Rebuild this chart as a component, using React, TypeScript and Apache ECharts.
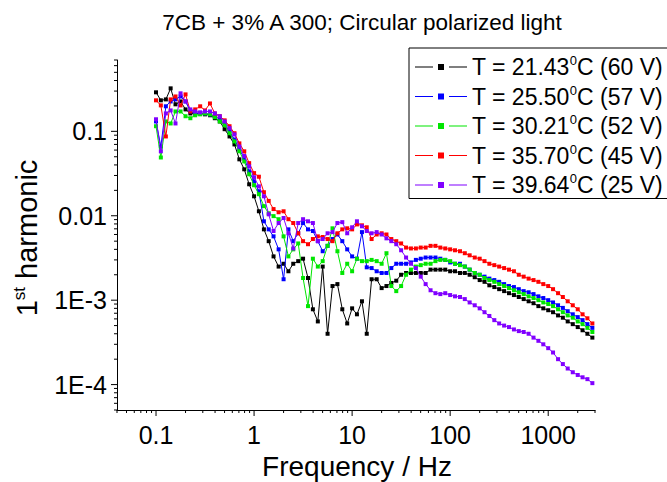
import React, { useEffect, useRef } from 'react';
import * as echarts from 'echarts';

// Frequencies (Hz), shared by all series
const freqs = [
  0.1, 0.112, 0.126, 0.141, 0.158, 0.178, 0.2, 0.224, 0.251, 0.282,
  0.316, 0.355, 0.398, 0.447, 0.501, 0.562, 0.631, 0.708, 0.794, 0.891,
  1, 1.12, 1.26, 1.41, 1.58, 1.78, 2, 2.24, 2.51, 2.82,
  3.16, 3.55, 3.98, 4.47, 5.01, 5.62, 6.31, 7.08, 7.94, 8.91,
  10, 11.2, 12.6, 14.1, 15.8, 17.8, 20, 22.4, 25.1, 28.2,
  31.6, 35.5, 39.8, 44.7, 50.1, 56.2, 63.1, 70.8, 79.4, 89.1,
  100, 112, 126, 141, 158, 178, 200, 224, 251, 282,
  316, 355, 398, 447, 501, 562, 631, 708, 794, 891,
  1000, 1120, 1260, 1410, 1580, 1780, 2000, 2240, 2510, 2820,
];

const h21 = [
  0.29, 0.233, 0.239, 0.323, 0.209, 0.226, 0.182, 0.163, 0.163, 0.163,
  0.159, 0.155, 0.143, 0.131, 0.106, 0.087, 0.07, 0.0466, 0.0355, 0.0236,
  0.017, 0.0113, 0.0069, 0.005, 0.0033, 0.0025, 0.0027, 0.0022, 0.0027, 0.0029,
  0.0031, 0.00183, 0.00078, 0.00056, 0.0025, 0.0004, 0.00147, 0.00155, 0.00078, 0.00053,
  0.0008, 0.00068, 0.00097, 0.0004, 0.00177, 0.00177, 0.00139, 0.00147, 0.0016, 0.0017,
  0.002, 0.0021, 0.0021, 0.0021, 0.0021, 0.0021, 0.0023, 0.0023, 0.0023, 0.0023,
  0.0022, 0.0022, 0.0021, 0.0021, 0.002, 0.00187, 0.00173, 0.00165, 0.0015, 0.00143,
  0.00135, 0.00128, 0.00121, 0.00115, 0.00109, 0.00103, 0.00097, 0.00092, 0.00085, 0.0008,
  0.00076, 0.00072, 0.00066, 0.00062, 0.00056, 0.00052, 0.00048, 0.00044, 0.0004, 0.00036,
];

const h25 = [
  0.131, 0.066, 0.198, 0.226, 0.239, 0.259, 0.226, 0.172, 0.163, 0.163,
  0.163, 0.159, 0.151, 0.139, 0.121, 0.1, 0.08, 0.061, 0.048, 0.0336,
  0.0256, 0.0195, 0.0086, 0.0069, 0.0057, 0.004, 0.00177, 0.0069, 0.005, 0.0062,
  0.0082, 0.0069, 0.0066, 0.005, 0.0038, 0.0044, 0.0053, 0.006, 0.005, 0.004,
  0.0033, 0.0031, 0.0064, 0.00245, 0.0024, 0.0022, 0.0021, 0.0021, 0.0024, 0.0027,
  0.0027, 0.0027, 0.0028, 0.003, 0.0031, 0.0032, 0.0032, 0.0032, 0.0031, 0.003,
  0.0028, 0.0027, 0.0027, 0.0025, 0.0023, 0.0021, 0.002, 0.0019, 0.0018, 0.00173,
  0.00165, 0.00155, 0.00147, 0.00143, 0.00135, 0.00128, 0.00124, 0.00118, 0.00111, 0.00106,
  0.001, 0.00094, 0.00087, 0.00081, 0.00074, 0.00068, 0.00063, 0.00058, 0.00052, 0.00047,
];

const h30 = [
  0.115, 0.049, 0.131, 0.124, 0.172, 0.172, 0.151, 0.143, 0.155, 0.159,
  0.163, 0.159, 0.147, 0.131, 0.118, 0.095, 0.076, 0.058, 0.044, 0.031,
  0.023, 0.018, 0.013, 0.0107, 0.0099, 0.0091, 0.0057, 0.0033, 0.004, 0.0047,
  0.00183, 0.00085, 0.0031, 0.0025, 0.0029, 0.0044, 0.0071, 0.0038, 0.0021, 0.0027,
  0.0022, 0.0031, 0.0029, 0.0029, 0.003, 0.0029, 0.0027, 0.0036, 0.00147, 0.00128,
  0.00147, 0.002, 0.0023, 0.0025, 0.0026, 0.0027, 0.0027, 0.0029, 0.003, 0.003,
  0.0029, 0.0027, 0.0026, 0.0025, 0.0023, 0.0021, 0.002, 0.00183, 0.00173, 0.00165,
  0.00155, 0.00147, 0.00139, 0.00131, 0.00124, 0.00118, 0.00111, 0.00106, 0.001, 0.00094,
  0.0009, 0.00085, 0.00078, 0.00072, 0.00066, 0.00062, 0.00056, 0.00052, 0.00047, 0.00042,
];

const h35 = [
  0.233, 0.203, 0.087, 0.239, 0.259, 0.203, 0.274, 0.172, 0.182, 0.198,
  0.177, 0.214, 0.163, 0.151, 0.135, 0.115, 0.095, 0.072, 0.058, 0.042,
  0.032, 0.029, 0.019, 0.015, 0.012, 0.011, 0.0113, 0.0091, 0.0082, 0.0062,
  0.005, 0.0046, 0.0053, 0.0057, 0.0056, 0.0053, 0.005, 0.0062, 0.0069, 0.0071,
  0.0069, 0.0079, 0.0077, 0.0073, 0.0053, 0.006, 0.0062, 0.006, 0.0053, 0.005,
  0.0047, 0.0042, 0.0041, 0.0041, 0.0042, 0.0042, 0.0044, 0.0044, 0.0042, 0.0041,
  0.004, 0.0039, 0.0038, 0.0036, 0.0034, 0.0032, 0.0031, 0.0029, 0.0027, 0.0026,
  0.0025, 0.0024, 0.0023, 0.0022, 0.002, 0.0019, 0.0018, 0.00173, 0.00165, 0.00155,
  0.00147, 0.00135, 0.00121, 0.00109, 0.00097, 0.00087, 0.00078, 0.00068, 0.00061, 0.00053,
];

const h39 = [
  0.139, 0.058, 0.163, 0.177, 0.124, 0.282, 0.226, 0.182, 0.172, 0.168,
  0.172, 0.172, 0.163, 0.151, 0.131, 0.109, 0.092, 0.066, 0.051, 0.0385,
  0.0286, 0.0223, 0.017, 0.0104, 0.0066, 0.0082, 0.0094, 0.0062, 0.0041, 0.0082,
  0.0091, 0.0086, 0.0082, 0.005, 0.0053, 0.0062, 0.0064, 0.0082, 0.0084, 0.0062,
  0.0073, 0.0086, 0.0075, 0.0066, 0.0062, 0.0064, 0.006, 0.0054, 0.005, 0.0046,
  0.0039, 0.0032, 0.0027, 0.0024, 0.0019, 0.00155, 0.00131, 0.00121, 0.00118, 0.00121,
  0.00115, 0.00111, 0.00109, 0.00103, 0.00094, 0.00087, 0.0008, 0.00072, 0.00065, 0.00058,
  0.00053, 0.0005, 0.00048, 0.00045, 0.00043, 0.00042, 0.0004, 0.00036, 0.00033, 0.0003,
  0.00027, 0.00024, 0.0002, 0.000175, 0.000155, 0.00014, 0.00013, 0.000122, 0.000116, 0.000104,
];

const seriesValues = [h21, h25, h30, h35, h39];
const seriesTemps = ['21.43', '25.50', '30.21', '35.70', '39.64'];
const seriesVolts = ['60', '57', '52', '45', '25'];
const seriesColors = ['#000000', '#0000ff', '#00e600', '#ff0000', '#8000ff'];

const xTickValues = [0.1, 1, 10, 100, 1000];
const xTickLabels = ['0.1', '1', '10', '100', '1000'];
const yTickValues = [1e-4, 1e-3, 0.01, 0.1];
const yTickLabels = ['1E-4', '1E-3', '0.01', '0.1'];

const X_MIN = 0.04;
const X_MAX = 3000;
const Y_MIN = 5e-5;
const Y_MAX = 0.7;

const FONT = '"Liberation Sans", Arial, Helvetica, sans-serif';
const LEGEND_ICON = 'path://M0,2.6H18V3.4H0Z M23,0H29V6H23Z M34,2.6H52V3.4H34Z';

function logTicks(min: number, max: number) {
  const out: [number, boolean][] = [];
  for (let e = -6; e <= 4; e++) {
    for (let m = 1; m <= 9; m++) {
      const v = parseFloat((m * Math.pow(10, e)).toPrecision(3));
      if (v >= min * 0.9999 && v <= max * 1.0001) out.push([v, m === 1]);
    }
  }
  return out;
}

function matchLabel(v: number, vals: number[], labels: string[]) {
  const lv = Math.log10(v);
  const i = vals.findIndex((t) => Math.abs(Math.log10(t) - lv) < 1e-6);
  return i >= 0 ? labels[i] : '';
}

const seriesName = (i: number) => `T = ${seriesTemps[i]}°C (${seriesVolts[i]} V)`;

export default function App() {
  const ref = useRef<HTMLDivElement>(null);
  useEffect(() => {
    if (!ref.current) return;
    const chart = echarts.init(ref.current, undefined, { renderer: 'svg' });

    const tickData: number[][] = [];
    logTicks(X_MIN, X_MAX).forEach(([v, major]) => tickData.push([v, Y_MIN, major ? 6 : 3, 0]));
    logTicks(Y_MIN, Y_MAX).forEach(([v, major]) => tickData.push([X_MIN, v, major ? 6 : 3, 1]));

    const lineSeries = seriesValues.map((vals, i) => ({
      name: seriesName(i),
      type: 'line',
      data: freqs.map((f, j) => [f, vals[j]]),
      symbol: 'rect',
      symbolSize: 4,
      showSymbol: true,
      color: seriesColors[i],
      lineStyle: { width: 1, color: seriesColors[i] },
      itemStyle: { color: seriesColors[i] },
      emphasis: { disabled: true },
      z: 2 + i,
    }));

    const option: any = {
      animation: false,
      backgroundColor: '#ffffff',
      grid: { left: 117, right: 72, top: 60, bottom: 72, containLabel: false },
      xAxis: {
        type: 'log',
        logBase: 10,
        min: X_MIN,
        max: X_MAX,
        axisLine: { show: true, lineStyle: { color: '#000', width: 1 } },
        axisTick: { show: false },
        splitLine: { show: false },
        axisLabel: {
          color: '#000',
          fontSize: 25,
          fontFamily: FONT,
          margin: 12,
          formatter: (v: number) => matchLabel(v, xTickValues, xTickLabels),
        },
      },
      yAxis: {
        type: 'log',
        logBase: 10,
        min: Y_MIN,
        max: Y_MAX,
        axisLine: { show: true, lineStyle: { color: '#000', width: 1 } },
        axisTick: { show: false },
        splitLine: { show: false },
        axisLabel: {
          color: '#000',
          fontSize: 25,
          fontFamily: FONT,
          margin: 10,
          formatter: (v: number) => matchLabel(v, yTickValues, yTickLabels),
        },
      },
      legend: {
        data: seriesValues.map((_, i) => ({ name: seriesName(i), icon: LEGEND_ICON })),
        orient: 'vertical',
        left: 409,
        top: 48,
        padding: [6, 9, 2, 6],
        itemWidth: 52,
        itemHeight: 6,
        itemGap: 5,
        selectedMode: false,
        borderColor: '#000',
        borderWidth: 1,
        backgroundColor: '#fff',
        itemStyle: { borderWidth: 0 },
        formatter: (name: string) => {
          const i = seriesValues.findIndex((_, k) => seriesName(k) === name);
          return `{n|T = ${seriesTemps[i]}}{s|0}{n|C (${seriesVolts[i]} V)}`;
        },
        textStyle: {
          color: '#000',
          fontFamily: FONT,
          fontSize: 23,
          rich: {
            n: { fontSize: 23, fontFamily: FONT, color: '#000', lineHeight: 26 },
            s: { fontSize: 13, fontFamily: FONT, color: '#000', lineHeight: 13, verticalAlign: 'top' },
          },
        },
      },
      graphic: [
        {
          type: 'text',
          x: 362,
          y: 22,
          style: {
            text: '7CB + 3% A 300; Circular polarized light',
            fontSize: 22.5,
            fontFamily: FONT,
            fill: '#000',
            align: 'center',
            verticalAlign: 'middle',
          },
        },
        {
          type: 'text',
          x: 357,
          y: 466,
          style: {
            text: 'Frequency / Hz',
            fontSize: 28,
            fontFamily: FONT,
            fill: '#000',
            align: 'center',
            verticalAlign: 'middle',
          },
        },
        {
          type: 'text',
          x: 27,
          y: 238,
          rotation: Math.PI / 2,
          style: {
            text: '{n|1}{s|st}{n| harmonic}',
            fontSize: 29,
            fontFamily: FONT,
            fill: '#000',
            align: 'center',
            verticalAlign: 'middle',
            rich: {
              n: { fontSize: 29, fontFamily: FONT, fill: '#000', lineHeight: 32 },
              s: { fontSize: 17, fontFamily: FONT, fill: '#000', lineHeight: 17, verticalAlign: 'top' },
            },
          },
        },
      ],
      series: [
        ...lineSeries,
        {
          type: 'custom',
          silent: true,
          clip: false,
          z: 10,
          data: tickData,
          renderItem: (params: any, api: any) => {
            const p = api.coord([api.value(0), api.value(1)]);
            const len = api.value(2);
            const dir = api.value(3);
            const shape =
              dir === 0
                ? { x1: p[0], y1: p[1], x2: p[0], y2: p[1] + len }
                : { x1: p[0] - len, y1: p[1], x2: p[0], y2: p[1] };
            return { type: 'line', shape, style: { stroke: '#000', lineWidth: 1 } };
          },
        },
      ],
    };

    chart.setOption(option);
    return () => chart.dispose();
  }, []);

  return (
    <div
      ref={ref}
      style={{ position: 'fixed', left: 0, top: 0, width: 667, height: 482, background: '#fff' }}
    />
  );
}
